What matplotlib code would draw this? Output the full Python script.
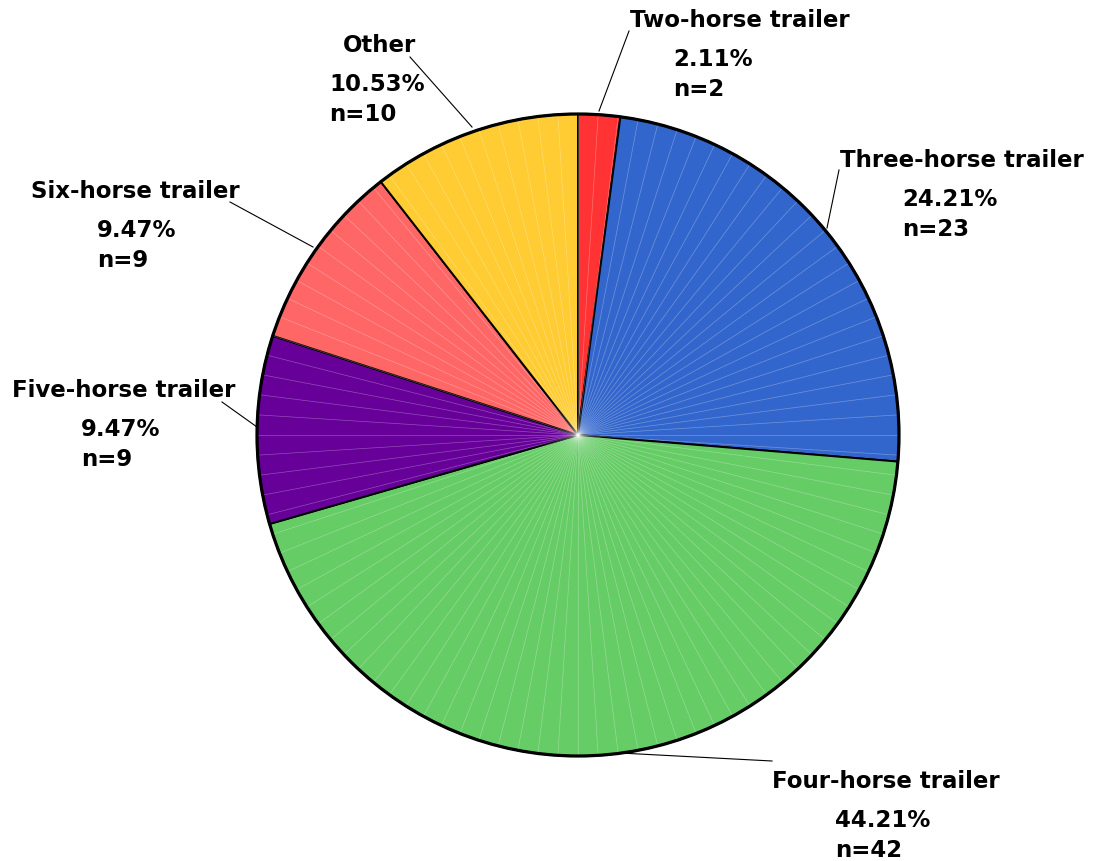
import numpy as np
import matplotlib
matplotlib.use('Agg')
import matplotlib.pyplot as plt

# data
labels = ['Two-horse trailer', 'Three-horse trailer', 'Four-horse trailer',
          'Five-horse trailer', 'Six-horse trailer', 'Other']
pcts = [2.11, 24.21, 44.21, 9.47, 9.47, 10.53]
counts = [2, 23, 42, 9, 9, 10]
colors = ['#FF3333', '#3366CC', '#66CC66', '#660099', '#FF6666', '#FFCC33']

# label layout in pixel coords: title x, pct x, title baseline, leader line
lay = {
    'Two-horse trailer':   (630, 673, 27,  (599, 111), (629, 31)),
    'Three-horse trailer': (840, 902, 167, (827, 228), (839, 170)),
    'Four-horse trailer':  (772, 835, 788, (620, 753), (772, 761)),
    'Five-horse trailer':  (12, 81, 397,   (257, 427), (222, 402)),
    'Six-horse trailer':   (31, 97, 198,   (313, 247), (230, 202)),
    'Other':               (343, 329, 52,  (472, 127), (410, 57)),
}

fig = plt.figure(figsize=(10.94, 8.61), dpi=100)
ax = fig.add_axes([0, 0, 1, 1])

cx, cy, r = 578, 435, 321
# y axis runs downward (pixel coords), so counterclock=True draws clockwise
wedges, _ = ax.pie(pcts, colors=colors, startangle=-90, counterclock=True,
                   center=(cx, cy), radius=r, frame=True,
                   wedgeprops=dict(edgecolor='black', linewidth=1.4))
ax.set_xlim(0, 1094)
ax.set_ylim(861, 0)
ax.axis('off')

# faint radial lines
for a in np.arange(0, 360, 3.6):
    t = np.deg2rad(a)
    ax.plot([cx, cx + r * np.cos(t)], [cy, cy + r * np.sin(t)],
            color='white', lw=0.5, alpha=0.3, zorder=3)

circ = plt.Circle((cx, cy), r, fill=False, edgecolor='black', lw=2.3, zorder=4)
ax.add_patch(circ)

fkw = dict(fontsize=16.5, fontweight='bold', family='DejaVu Sans', va='baseline', ha='left')
for lab, p, n in zip(labels, pcts, counts):
    tx, px, by, p0, p1 = lay[lab]
    ax.text(tx, by, lab, **fkw)
    ax.text(px, by + 39, f'{p:.2f}%', **fkw)
    ax.text(px, by + 69, f'n={n}', **fkw)
    ax.plot([p0[0], p1[0]], [p0[1], p1[1]], color='black', lw=0.8, zorder=5)

fig.savefig('out.png', dpi=100)
